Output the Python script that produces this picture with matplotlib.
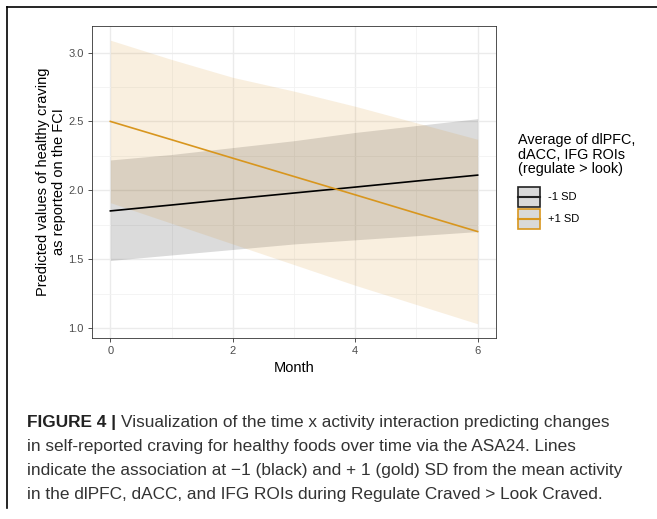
import matplotlib
matplotlib.use('Agg')
import matplotlib.pyplot as plt
from matplotlib.patches import Rectangle
from matplotlib.lines import Line2D
import numpy as np

# data
months = [0, 1, 2, 3, 4, 5, 6]
low_pred = [1.85, 1.893, 1.937, 1.98, 2.023, 2.067, 2.11]
low_upper = [2.22, 2.26, 2.31, 2.36, 2.42, 2.47, 2.52]
low_lower = [1.49, 1.53, 1.57, 1.61, 1.64, 1.67, 1.70]
high_pred = [2.50, 2.367, 2.233, 2.10, 1.967, 1.833, 1.70]
high_upper = [3.09, 2.95, 2.82, 2.72, 2.61, 2.49, 2.37]
high_lower = [1.91, 1.76, 1.61, 1.46, 1.31, 1.17, 1.03]
x_ticks = [0, 2, 4, 6]
y_ticks = [1.0, 1.5, 2.0, 2.5, 3.0]
legend_labels = ['-1 SD', '+1 SD']

plt.rcParams['font.family'] = ['Liberation Sans', 'DejaVu Sans']

W, H = 657, 519
gold = '#D8961E'
series_colors = ['#222222', gold]

def fx(px):
    return px / W

def fy(py):
    return 1 - py / H

fig = plt.figure(figsize=(6.57, 5.19), dpi=100)
ax = fig.add_axes([fx(92), fy(338), (496-92)/W, (338-26)/H])

ax.fill_between(months, low_lower, low_upper, color='black', alpha=0.14, lw=0)
ax.fill_between(months, high_lower, high_upper, color='#D8962E', alpha=0.15, lw=0)
ax.plot(months, low_pred, color='black', lw=1.2)
ax.plot(months, high_pred, color=gold, lw=1.2)

ax.set_xlim(-0.3, 6.3)
ax.set_ylim(0.927, 3.193)
ax.set_xticks(x_ticks)
ax.set_yticks(y_ticks)
ax.set_xticks([1, 3, 5], minor=True)
ax.set_yticks([1.25, 1.75, 2.25, 2.75], minor=True)
ax.grid(True, which='major', color='#EBEBEB', lw=1.0)
ax.grid(True, which='minor', color='#F2F2F2', lw=0.6)
ax.set_axisbelow(True)
ax.tick_params(which='major', length=3, width=0.6, color='#333333',
               labelsize=8, labelcolor='#4D4D4D', pad=3)
ax.tick_params(which='minor', length=0)
for s in ax.spines.values():
    s.set_color('#333333')
    s.set_linewidth(0.6)

ax.set_xlabel('Month', fontsize=10.5, labelpad=3)
ax.set_ylabel('Predicted values of healthy craving\nas reported on the FCI', fontsize=10.5,
              labelpad=2, linespacing=1.1)

# legend, drawn by hand
fig.text(fx(518), fy(133), 'Average of dlPFC,\ndACC, IFG ROIs\n(regulate > look)',
         fontsize=10.4, va='top', ha='left', linespacing=1.05)
for i, (lab, col) in enumerate(zip(legend_labels, series_colors)):
    top = 187 + i * 22
    fig.add_artist(Rectangle((fx(518), fy(top + 20)), 22/W, 20/H, facecolor='#D9D9D9',
                             edgecolor=col, lw=1.2, transform=fig.transFigure))
    fig.add_artist(Line2D([fx(518), fx(540)], [fy(top + 10)] * 2, color=col, lw=1.5))
    fig.text(fx(548), fy(top + 10), lab, fontsize=8, va='center', ha='left')

# frame lines around the figure
fig.add_artist(Line2D([fx(7), fx(7)], [fy(7), fy(508)], color='black', lw=1.2))
fig.add_artist(Line2D([fx(7), 1.0], [fy(7), fy(7)], color='black', lw=1.2))

# caption
lines = [
    'Visualization of the time x activity interaction predicting changes',
    'in self-reported craving for healthy foods over time via the ASA24. Lines',
    'indicate the association at \u22121 (black) and + 1 (gold) SD from the mean activity',
    'in the dlPFC, dACC, and IFG ROIs during Regulate Craved > Look Craved.',
]
cap_size = 12.4
ys = [422, 446, 470, 494]
bold = fig.text(fx(27), fy(ys[0]), 'FIGURE 4 | ', fontsize=cap_size, fontweight='bold',
                va='center', color='#222222')
fig.canvas.draw()
bb = bold.get_window_extent()
fig.text(bb.x1 / fig.bbox.width, fy(ys[0]), lines[0], fontsize=cap_size,
         va='center', color='#333333')
for y, t in zip(ys[1:], lines[1:]):
    fig.text(fx(27), fy(y), t, fontsize=cap_size, va='center', color='#333333')

fig.savefig('out.png', dpi=100)
